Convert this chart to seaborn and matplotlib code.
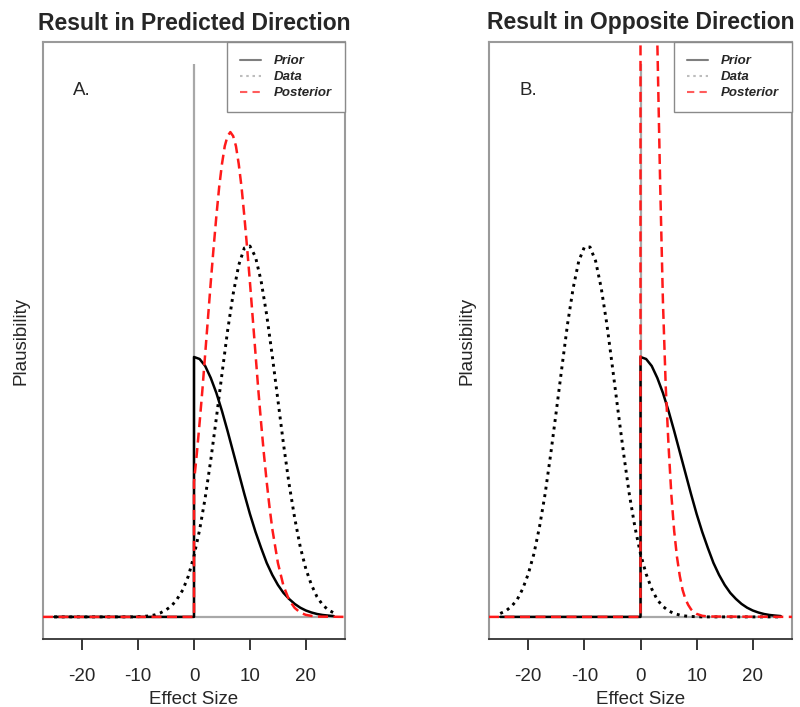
"""
Prior / data / posterior plausibility curves for an effect that is
predicted to be positive (half-normal prior), two scenarios side by side.
"""

import matplotlib
matplotlib.use("Agg")
import matplotlib.pyplot as plt
import seaborn as sns
from matplotlib.lines import Line2D


# =============================================================================
# DATA (heights are in plot units, top of plot = 553)
# =============================================================================
X_LO, X_HI = -25, 25
Y_TOP = 553

# prior: half-normal, zero below 0 then jumps up at the origin
PRIOR_X = [-25, 0, 0, 1, 2, 3, 4, 5, 6, 7, 8, 9, 10, 11, 12, 13, 14, 15,
           16, 17, 18, 19, 20, 21, 22, 23, 24, 25]
PRIOR_Y = [0, 0, 260, 258, 251, 239, 224, 206, 186, 165, 144, 123, 103, 85,
           69, 54, 42, 32, 24, 18, 13, 9.2, 6.4, 4.4, 2.9, 1.9, 1.3, 0.8]

DATA_X = [-25, -24, -23, -22, -21, -20, -19, -18, -17, -16, -15, -14, -13,
          -12, -11, -10, -9, -8, -7, -6, -5, -4, -3, -2, -1, 0, 1, 2, 3, 4,
          5, 6, 7, 8, 9, 10, 11, 12, 13, 14, 15, 16, 17, 18, 19, 20, 21, 22,
          23, 24, 25]
# panel A: data centred near +10
DATA_A = [0, 0, 0, 0, 0, 0, 0, 0, 0, 0, 0, 0, 0, 0, 0, 0.2, 0.5, 1, 2, 4, 7,
          11, 18, 27, 41, 61, 87, 119, 157, 199, 243, 286, 323, 352, 369, 371,
          360, 336, 302, 261, 217, 173, 133, 99, 70, 48, 32, 20, 12, 7, 4]
# panel B: data centred near -10
DATA_B = [3.4, 6, 10.5, 17, 28, 43, 63, 90, 123, 163, 206, 250, 293, 329,
          356, 370, 370, 356, 329, 293, 250, 206, 163, 123, 90, 63, 43, 28,
          17, 10.5, 6, 3.4, 1.8, 0.9, 0.4, 0.2, 0, 0, 0, 0, 0, 0, 0, 0, 0, 0,
          0, 0, 0, 0, 0]

POST_A_X = [-27, 0, 0, 0.5, 1, 1.5, 2, 2.5, 3, 3.5, 4, 4.5, 5, 5.5, 6, 6.5,
            7, 7.5, 8, 8.5, 9, 9.5, 10, 10.5, 11, 11.5, 12, 12.5, 13, 13.5,
            14, 15, 16, 17, 18, 19, 20, 21, 22, 27]
POST_A_Y = [0, 0, 135, 163, 194, 227, 263, 299, 335, 369, 401, 430, 453, 471,
            481, 485, 481, 471, 453, 430, 401, 369, 335, 299, 263, 227, 194,
            163, 135, 110, 88, 54, 31, 17, 9, 4.3, 2, 1, 0.3, 0]

POST_B_X = [-27, 0, 0, 0.5, 1, 1.5, 2, 2.5, 3, 3.5, 4, 4.5, 5, 5.5, 6, 6.5,
            7, 7.5, 8, 8.5, 9, 9.5, 10, 11, 12, 27]
POST_B_Y = [0, 0, 2284, 1881, 1528, 1223, 965, 750, 575, 434, 315, 230, 171,
            122, 86, 60, 41, 27, 18, 12, 7.6, 4.8, 3.0, 1.1, 0.4, 0]

X_TICKS = [-20, -10, 0, 10, 20]
LEGEND_LABELS = ["Prior", "Data", "Posterior"]

PANELS = [
    ("Result in Predicted Direction", "A.", DATA_A, POST_A_X, POST_A_Y),
    ("Result in Opposite Direction", "B.", DATA_B, POST_B_X, POST_B_Y),
]

# styles
DOT = (0, (1.0, 1.6))
DASH = (0, (4.0, 2.2))
GREY = "#a8a8a8"
LW = 1.8


# =============================================================================
# PLOT
# =============================================================================
def draw_panel(ax, title, tag, data_y, post_x, post_y):
    ax.hlines(0, X_LO, X_HI, color=GREY, lw=1.6, zorder=1)
    ax.vlines(0, 0, Y_TOP, color=GREY, lw=1.6, zorder=1)

    sns.lineplot(x=PRIOR_X, y=PRIOR_Y, estimator=None, sort=False, ax=ax,
                 color="black", linewidth=LW, zorder=2)
    sns.lineplot(x=DATA_X, y=data_y, estimator=None, sort=False, ax=ax,
                 color="black", linewidth=LW + 0.3, linestyle=DOT, zorder=3)
    sns.lineplot(x=post_x, y=post_y, estimator=None, sort=False, ax=ax,
                 color="#ff1a1a", linewidth=LW, linestyle=DASH, zorder=4)

    pad = 0.04
    ax.set_xlim(X_LO - pad * (X_HI - X_LO), X_HI + pad * (X_HI - X_LO))
    ax.set_ylim(-pad * Y_TOP, Y_TOP * (1 + pad))
    ax.set_xticks(X_TICKS)
    ax.set_yticks([])
    ax.tick_params(axis="x", direction="out", length=8, width=1.1,
                   color="black", labelsize=13.5, pad=13, bottom=True)

    for side in ["left", "right", "top"]:
        ax.spines[side].set_color("#9a9a9a")
        ax.spines[side].set_linewidth(1.5)
    ax.spines["bottom"].set_color("#333333")
    ax.spines["bottom"].set_linewidth(1.3)

    ax.set_title(title, fontsize=16.5, fontweight="bold", pad=9)
    ax.set_xlabel("Effect Size", fontsize=13.5, labelpad=4)
    ax.set_ylabel("Plausibility", fontsize=13.5, labelpad=10)
    ax.text(-20, 527, tag, fontsize=13.5, ha="center", va="center")

    handles = [
        Line2D([], [], color="#7f7f7f", lw=1.5),
        Line2D([], [], color="#bdbdbd", lw=1.5, linestyle=(0, (1.2, 1.8))),
        Line2D([], [], color="#ff5c5c", lw=1.5, linestyle=(0, (3.5, 2.5))),
    ]
    leg = ax.legend(handles, LEGEND_LABELS, loc="upper right",
                    borderaxespad=0, frameon=True, fancybox=False,
                    edgecolor="#8a8a8a", framealpha=1,
                    prop={"weight": "bold", "style": "italic", "size": 9.5},
                    handlelength=1.6, handletextpad=0.95, labelspacing=0.28,
                    borderpad=1.0)
    leg.get_frame().set_linewidth(1.0)


def main():
    sns.set_style("white")
    plt.rcParams["font.family"] = ["Liberation Sans", "DejaVu Sans"]
    plt.rcParams["axes.unicode_minus"] = False

    fig = plt.figure(figsize=(8, 7.07), dpi=100)
    ax_a = fig.add_axes([43 / 800, 1 - 639 / 707, 302 / 800, 597 / 707])
    ax_b = fig.add_axes([489 / 800, 1 - 639 / 707, 303 / 800, 597 / 707])

    for ax, (title, tag, data_y, post_x, post_y) in zip([ax_a, ax_b], PANELS):
        draw_panel(ax, title, tag, data_y, post_x, post_y)

    fig.savefig("out.png", dpi=100)
    plt.close(fig)


if __name__ == "__main__":
    main()
